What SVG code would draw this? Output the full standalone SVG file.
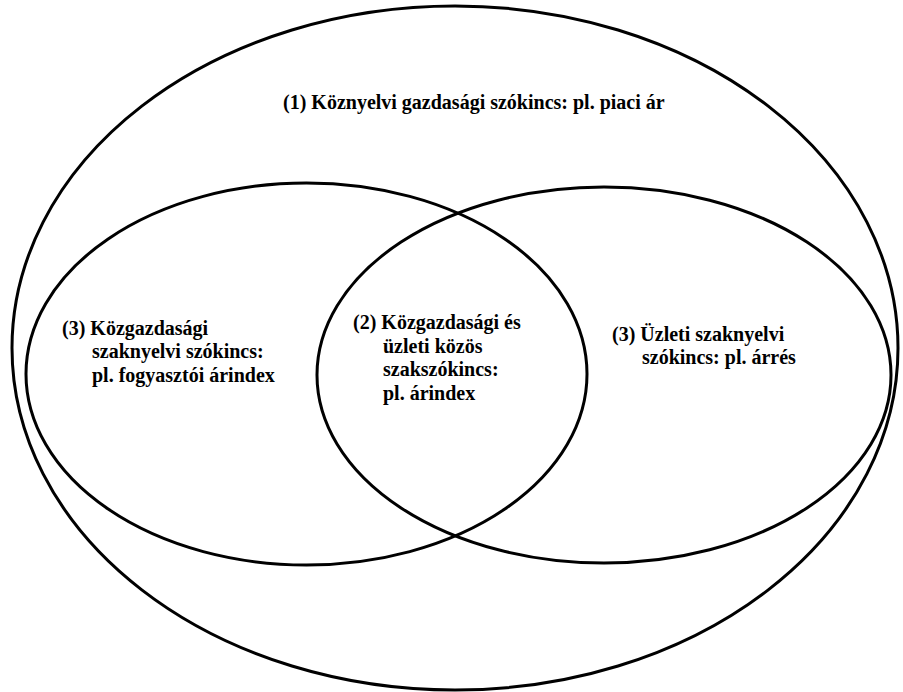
<svg xmlns="http://www.w3.org/2000/svg" width="903" height="692" viewBox="0 0 903 692">
<style>
.ring{fill:none;stroke:#000;stroke-width:3}
.t{font-family:"Liberation Serif","Times New Roman",serif;font-weight:bold;font-size:20px;fill:#000}
</style>
<rect width="903" height="692" fill="#fff"/>
<g id="outer">
<ellipse class="ring" cx="455" cy="348" rx="443" ry="342"/>
<text class="t" x="283" y="109">(1) Köznyelvi gazdasági szókincs: pl. piaci ár</text>
</g>
<g id="left">
<ellipse class="ring" cx="306.5" cy="374" rx="280.5" ry="191"/>
<text class="t" x="62" y="335">(3) Közgazdasági</text>
<text class="t" x="92" y="358">szaknyelvi szókincs:</text>
<text class="t" x="92" y="382">pl. fogyasztói árindex</text>
</g>
<g id="right">
<ellipse class="ring" cx="604" cy="375" rx="287" ry="188"/>
<text class="t" x="612" y="341">(3) Üzleti szaknyelvi</text>
<text class="t" x="642" y="364">szókincs: pl. árrés</text>
</g>
<g id="middle">
<text class="t" x="353" y="329">(2) Közgazdasági és</text>
<text class="t" x="383" y="353">üzleti közös</text>
<text class="t" x="383" y="376">szakszókincs:</text>
<text class="t" x="383" y="400">pl. árindex</text>
</g>
<g id="connectors"/>
</svg>
